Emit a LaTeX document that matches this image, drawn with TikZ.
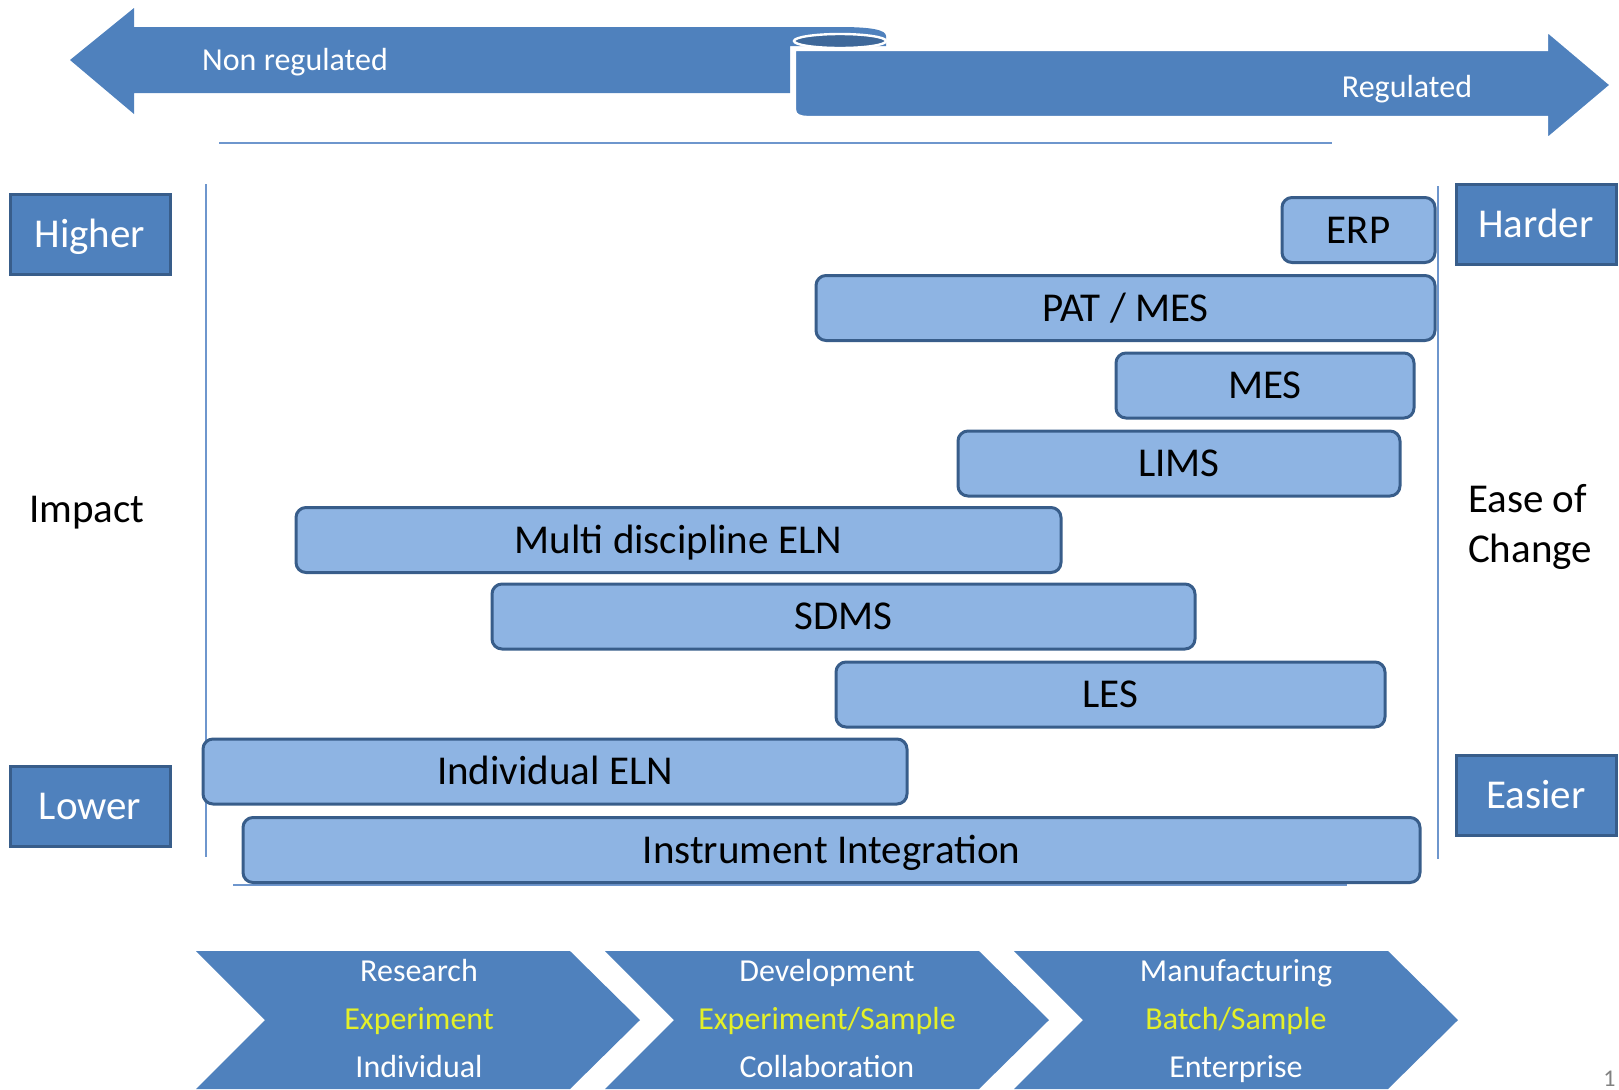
\documentclass[tikz,border=0pt]{standalone}
\usepackage{fontspec}
\setmainfont{Carlito}
\definecolor{chartblue}{RGB}{79,129,189}
\definecolor{edgeblue}{RGB}{56,93,138}
\definecolor{barblue}{RGB}{142,180,227}
\definecolor{curlblue}{RGB}{62,104,154}
\definecolor{stageyellow}{RGB}{228,240,40}
\definecolor{axisblue}{RGB}{110,150,205}

\begin{document}
\begin{tikzpicture}[x=0.5pt,y=-0.5pt,
  bar/.style={rectangle,rounded corners=5pt,draw=edgeblue,line width=1.5pt,fill=barblue,minimum height=32.5pt,inner sep=0pt,text height=13.2pt,text depth=0pt,font=\fontsize{20.5}{24}\selectfont},
  tag/.style={rectangle,draw=edgeblue,line width=1.5pt,fill=chartblue,text=white,minimum width=80pt,minimum height=40pt,inner sep=0pt,text height=13.2pt,text depth=0pt,font=\fontsize{20.5}{24}\selectfont},
  banner/.style={text=white,inner sep=0pt,text height=10.3pt,text depth=0pt,font=\fontsize{16}{24}\selectfont},
  stagetext/.style={text=white,align=center,font=\fontsize{16}{24}\selectfont},
  axis/.style={draw=axisblue,line width=0.8pt}]
\useasboundingbox (0,0) rectangle (1619,1089);

% ribbon arrows on top
\fill[chartblue] (70,60) -- (134,8) -- (134,27) -- (840,27) .. controls (872,27) and (886,30) .. (886,36) -- (886,46) -- (790,46) -- (790,93) -- (134,93) -- (134,114) -- cycle;
\filldraw[fill=curlblue,draw=white,line width=1.2pt] (840,41) ellipse (46 and 7);
\filldraw[fill=chartblue,draw=white,line width=1.2pt] (795,50) -- (1547,50) -- (1547,31) -- (1611,85) -- (1547,139) -- (1547,117) -- (808,117) .. controls (800,117) and (795,115) .. (795,110) -- cycle;
\node[banner] (nonreg) at (295,60) {Non regulated};
\node[banner] (reg) at (1407,87) {Regulated};

% frame lines
\draw[axis] (219,143) -- (1332,143);
\draw[axis] (206,184) -- (206,857);
\draw[axis] (1438,186) -- (1438,859);
\draw[axis] (233,885) -- (1347,885);

% systems
\path (1358.5,230) node[bar,minimum width=76.5pt] (erp) {ERP};
\path (1125.5,308) node[bar,minimum width=309.5pt] (patmes) {PAT / MES};
\path (1265,385.5) node[bar,minimum width=149pt] (mes) {MES};
\path (1179,463.5) node[bar,minimum width=221pt] (lims) {LIMS};
\path (678.5,540) node[bar,minimum width=382.5pt] (multieln) {Multi discipline ELN};
\path (843.5,616.5) node[bar,minimum width=351.5pt] (sdms) {SDMS};
\path (1110.5,694.5) node[bar,minimum width=274.5pt] (les) {LES};
\path (555,771.5) node[bar,minimum width=352pt] (indeln) {Individual ELN};
\path (831.5,850) node[bar,minimum width=588.5pt] (instint) {Instrument Integration};

% side scales
\node[tag] (higher) at (90,234.5) {Higher};
\node[tag] (lower) at (90,806) {Lower};
\node[inner sep=0pt,text height=13.2pt,text depth=0pt,font=\fontsize{20.5}{24}\selectfont] (impact) at (87,509) {Impact};
\node[tag] (harder) at (1536,224) {Harder};
\node[tag] (easier) at (1536,795) {Easier};
\node[align=left,font=\fontsize{20.5}{25}\selectfont] (ease) at (1530,527) {Ease of\\Change};

% stages
\fill[chartblue] (196,951) -- (570,951) -- (640,1020) -- (570,1089) -- (196,1089) -- (265,1020) -- cycle;
\fill[chartblue] (605,951) -- (979,951) -- (1049,1020) -- (979,1089) -- (605,1089) -- (674,1020) -- cycle;
\fill[chartblue] (1014,951) -- (1388,951) -- (1458,1020) -- (1388,1089) -- (1014,1089) -- (1083,1020) -- cycle;
\node[stagetext] (research) at (419,1020) {\strut Research\\\textcolor{stageyellow}{Experiment}\\Individual\strut};
\node[stagetext] (develop) at (827,1020) {\strut Development\\\textcolor{stageyellow}{Experiment/Sample}\\Collaboration\strut};
\node[stagetext] (manufact) at (1236,1020) {\strut Manufacturing\\\textcolor{stageyellow}{Batch/Sample}\\Enterprise\strut};
\node[anchor=base west,inner sep=0pt,text=gray,font=\fontsize{12}{12}\selectfont] (pagenum) at (1603,1086) {1};
\end{tikzpicture}
\end{document}
